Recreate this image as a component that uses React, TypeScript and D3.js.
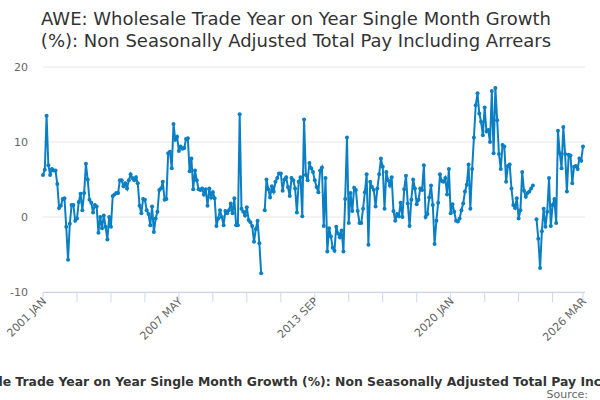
import React from 'react'
import * as d3 from 'd3'

// monthly values, 2001 JAN .. 2026 MAR (null = no figure)
const growth: (number | null)[] = [
  // 2001
  5.6, 6.3, 13.5, 6.9, 5.6, 6.4, 6.2, 6.2, 4.4, 1.2, 1.5, 2.4,
  // 2002
  2.5, -1.3, -5.7, -0.9, 1.6, 1.6, -0.5, -0.2, 2.0, 3.1, 0.9, 3.2,
  // 2003
  7.1, 5.0, 2.3, 1.9, 0.6, 1.6, 1.4, -2.1, 0.0, -1.5, 0.2, -1.3,
  // 2004
  -3.0, 0.0, -1.3, 2.8, 3.0, 3.2, 3.2, 4.9, 4.9, 4.1, 4.5, 3.8,
  // 2005
  4.9, 5.7, 5.2, 4.9, 5.3, 4.5, 1.5, 0.5, 2.4, 2.3, 0.9, 0.4,
  // 2006
  -1.1, 1.4, -2.0, -0.2, 0.7, 3.6, 3.8, 4.7, 2.3, 2.4, 8.5, 8.7,
  // 2007
  6.5, 12.4, 10.3, 10.7, 8.8, 9.4, 9.1, 9.2, 10.4, 10.5, 6.1, 7.8,
  // 2008
  3.7, 6.2, 4.9, 3.7, 3.6, 3.8, 3.0, 3.7, 1.5, 3.8, 2.6, 3.3,
  // 2009
  2.5, -1.2, -0.2, 0.9, 0.0, -1.1, 0.8, 0.5, 0.9, 1.8, 0.5, 2.5,
  // 2010
  -1.1, -1.1, 13.7, 1.1, 0.7, 0.2, 1.3, -0.4, -0.7, -1.2, -3.3, -1.6,
  // 2011
  -0.5, -3.5, -7.5, null, 0.9, 5.0, 3.7, 2.6, 4.1, 3.4, 4.7, 5.2,
  // 2012
  5.8, 5.8, 3.5, 5.0, 5.3, 4.0, 2.8, 5.2, 4.9, 3.8, 0.6, 4.7,
  // 2013
  5.3, 0.1, 13.0, 5.6, 4.9, 7.2, 6.5, 6.0, 4.9, 4.0, 3.3, 6.2,
  // 2014
  6.6, -1.2, 5.2, -4.6, -1.5, -2.6, -4.1, -4.5, -1.3, -2.2, -2.7, -1.8,
  // 2015
  -4.6, 2.4, 10.6, -0.8, 3.2, 0.8, 3.9, 3.6, 0.8, -0.8, -0.8, 1.1,
  // 2016
  3.3, 5.7, -3.7, 4.7, 4.0, 3.6, 1.4, 3.8, 5.7, 7.8, 6.7, 1.1,
  // 2017
  6.0, 4.9, 4.2, 5.3, 0.8, -0.5, 0.4, 0.1, 1.9, 0.0, 3.7, 5.5,
  // 2018
  1.8, -1.2, 2.3, 5.0, 3.8, 1.7, 2.3, 3.8, 3.6, 6.9, 0.0, 0.4,
  // 2019
  2.6, 4.2, 1.6, -3.6, -0.5, 1.9, 5.7, 4.8, 4.7, 5.2, 3.0, 6.4,
  // 2020
  0.5, 1.7, 0.7, -0.5, -0.6, -0.2, 0.9, 1.8, 3.4, 4.3, 7.0, 1.1,
  // 2021
  6.4, 10.6, 14.9, 16.5, 13.8, 12.7, 10.9, 14.6, 11.4, 11.6, 10.0, 16.8,
  // 2022
  8.5, 17.2, 12.9, 8.4, 6.4, 9.6, 9.4, 4.7, 6.8, 7.0, 3.8, 1.6,
  // 2023
  1.2, 2.5, -0.2, 0.9, 6.0, 3.5, 2.7, 3.2, 3.4, 3.8, 4.2, null,
  // 2024
  -0.3, -2.9, -6.8, -1.9, 1.1, -1.3, 0.7, 5.2, -1.2, 1.6, 2.4, -0.8,
  // 2025
  11.5, 8.5, 6.5, 12.0, 8.4, 3.4, 8.3, 8.2, 4.5, 6.7, 6.8, 6.4,
  // 2026
  7.8, 7.5, 9.4,
]

const yTicks = [-10, 0, 10, 20]
const labelMonths = [0, 76, 152, 228, 302]
const labelTexts = ['2001 JAN', '2007 MAY', '2013 SEP', '2020 JAN', '2026 MAR']
const titleLines = [
  'AWE: Wholesale Trade Year on Year Single Month Growth',
  '(%): Non Seasonally Adjusted Total Pay Including Arrears',
]
const caption =
  'AWE: Wholesale Trade Year on Year Single Month Growth (%): Non Seasonally Adjusted Total Pay Including Arrears'
const sourceText = 'Source:'

const W = 600
const H = 400
const left = 43
const right = 583
const top = 67
const bottom = 292
const font = '"DejaVu Sans", Verdana, sans-serif'
const blue = '#0b7fc3'

export default function App() {
  const n = growth.length
  const x = d3.scaleLinear().domain([0, n - 1]).range([left, right])
  const y = d3.scaleLinear().domain([-10, 20]).range([bottom, top])

  const tickMonths = d3.range(0, n - 1, 19).concat([n - 1])

  const line = d3
    .line<number | null>()
    .defined((d) => d !== null)
    .x((_, i) => x(i))
    .y((d) => y(d as number))

  return (
    <svg
      width={W}
      height={H}
      style={{ position: 'absolute', left: 0, top: 0, background: '#fff' }}
      fontFamily={font}
    >
      {titleLines.map((t, i) => (
        <text key={t} x={W / 2 - 4} y={25 + i * 22} textAnchor="middle" fontSize={18} fill="#333">
          {t}
        </text>
      ))}

      {yTicks.map((t) => (
        <g key={t}>
          <line x1={left} x2={right + 2} y1={y(t)} y2={y(t)} stroke="#e6e6e6" />
          <text x={28} y={y(t) + 4} textAnchor="end" fontSize={11} fill="#666">
            {t}
          </text>
        </g>
      ))}

      <line x1={left} x2={right + 2} y1={bottom + 0.5} y2={bottom + 0.5} stroke="#ccd6eb" />
      {tickMonths.map((m) => (
        <line key={m} x1={x(m)} x2={x(m)} y1={bottom} y2={bottom + 10} stroke="#ccd6eb" />
      ))}
      {labelMonths.map((m, i) => (
        <text
          key={m}
          transform={`translate(${x(m) + 4},${bottom + 10}) rotate(-45)`}
          textAnchor="end"
          fontSize={11}
          fill="#666"
        >
          {labelTexts[i]}
        </text>
      ))}

      <path d={line(growth) || ''} fill="none" stroke={blue} strokeWidth={2} />
      {growth.map((v, i) =>
        v === null ? null : <circle key={i} cx={x(i)} cy={y(v)} r={2} fill={blue} />
      )}

      <text x={W / 2} y={386} textAnchor="middle" fontSize={12.4} fontWeight="bold" fill="#333">
        {caption}
      </text>
      <text x={588} y={398} textAnchor="end" fontSize={11} fill="#666">
        {sourceText}
      </text>
    </svg>
  )
}
